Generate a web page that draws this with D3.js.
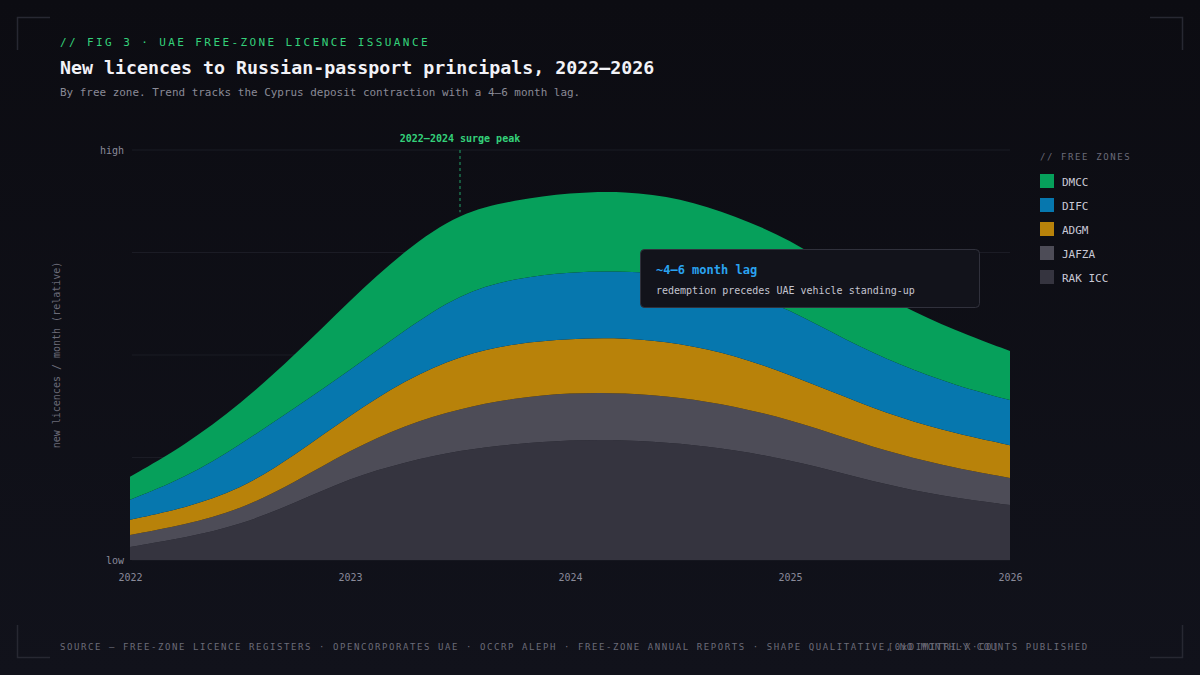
<!DOCTYPE html>
<html><head><meta charset="utf-8">
<script src="https://cdn.jsdelivr.net/npm/d3@7"></script>
<style>
html,body{margin:0;padding:0;background:#0e0e15;}
svg{display:block;font-family:"DejaVu Sans Mono",monospace;}
</style></head>
<body>
<svg id="c" width="1200" height="675"></svg>
<script>
// ---- data ----
const periods = [2022,2022.25,2022.5,2022.75,2023,2023.25,2023.5,2023.75,2024,2024.25,2024.5,2024.75,2025,2025.25,2025.5,2025.75,2026];
const zones = ["RAK ICC","JAFZA","ADGM","DIFC","DMCC"];
const rakIcc = [3.2,5.4,8.5,13.9,20.0,23.9,26.8,28.3,29.3,29.3,28.5,26.8,24.4,21.0,17.6,15.1,13.4];
const jafza  = [2.9,3.2,3.7,5.1,6.8,9.0,10.2,11.2,11.5,11.5,11.2,10.7,9.8,8.8,8.0,7.3,6.6];
const adgm   = [3.7,4.1,4.9,6.6,8.5,11.0,12.9,13.4,13.2,13.4,13.2,12.4,11.0,10.0,9.0,8.5,8.0];
const difc   = [4.9,7.3,11.0,11.5,11.0,12.2,15.1,15.9,16.3,16.3,16.6,16.3,15.9,13.9,12.9,11.7,11.0];
const dmcc   = [5.6,8.0,9.8,12.9,17.1,19.5,19.8,19.0,19.3,19.5,18.8,17.8,17.1,15.9,14.6,13.4,12.0];
const yearTicks = [2022,2023,2024,2025,2026];
const yTickLabels = [{v:0,label:"low"},{v:100,label:"high"}];
const gridVals = [0,25,50,75,100];
const legendOrder = ["DMCC","DIFC","ADGM","JAFZA","RAK ICC"];
const peakMarker = 2023.5;

const colors = {"DMCC":"#06a05b","DIFC":"#0677ae","ADGM":"#b8820a","JAFZA":"#4d4c57","RAK ICC":"#35343f"};

const seriesMap = {"RAK ICC":rakIcc,"JAFZA":jafza,"ADGM":adgm,"DIFC":difc,"DMCC":dmcc};
const table = periods.map((p,i)=>{const o={t:p}; zones.forEach(z=>o[z]=seriesMap[z][i]); return o;});

const svg = d3.select("#c");
const defs = svg.append("defs");
const bg = defs.append("linearGradient").attr("id","bg").attr("x1",0).attr("y1",0).attr("x2",0).attr("y2",1);
bg.append("stop").attr("offset","0%").attr("stop-color","#0c0c12");
bg.append("stop").attr("offset","100%").attr("stop-color","#11121b");
svg.append("rect").attr("width",1200).attr("height",675).attr("fill","url(#bg)");

// corner brackets
const cb = svg.append("g").attr("fill","none").attr("stroke","#272832").attr("stroke-width",1.5);
cb.append("path").attr("d","M17.5,50 V17.5 H50");
cb.append("path").attr("d","M1150,17.5 H1182.5 V50");
cb.append("path").attr("d","M17.5,625 V657.5 H50");
cb.append("path").attr("d","M1150,657.5 H1182.5 V625");

// header
svg.append("text").attr("x",60).attr("y",46).attr("fill","#34d17a").attr("font-size",11)
  .attr("letter-spacing","2.4px").text("// FIG 3 · UAE FREE-ZONE LICENCE ISSUANCE");
svg.append("text").attr("x",60).attr("y",74).attr("fill","#f2f2f7").attr("font-size",18.3).attr("font-weight","bold")
  .text("New licences to Russian-passport principals, 2022–2026");
svg.append("text").attr("x",60).attr("y",96).attr("fill","#8a8a96").attr("font-size",10.95)
  .text("By free zone. Trend tracks the Cyprus deposit contraction with a 4–6 month lag.");

// scales
const x = d3.scaleLinear().domain([2022,2026]).range([130,1010]);
const y = d3.scaleLinear().domain([0,100]).range([560,150]);

// grid
svg.append("g").selectAll("line").data(gridVals).join("line")
  .attr("x1",132).attr("x2",1010).attr("y1",d=>y(d)).attr("y2",d=>y(d))
  .attr("stroke","#1b1c25").attr("stroke-width",1);

// stack
const stack = d3.stack().keys(zones);
const layers = stack(table);
const area = d3.area().x(d=>x(d.data.t)).y0(d=>y(d[0])).y1(d=>y(d[1])).curve(d3.curveBasis);
svg.append("g").selectAll("path").data(layers).join("path")
  .attr("d",area).attr("fill",d=>colors[d.key]);

// y tick labels
svg.append("g").selectAll("text").data(yTickLabels).join("text")
  .attr("x",124).attr("y",d=>y(d.v)+4).attr("text-anchor","end")
  .attr("fill","#8a8a99").attr("font-size",10).text(d=>d.label);

// x axis
const xAxis = d3.axisBottom(x).tickValues(yearTicks).tickFormat(d3.format("d")).tickSize(0).tickPadding(14);
const gx = svg.append("g").attr("transform","translate(0,560)").call(xAxis);
gx.select(".domain").remove();
gx.selectAll("text").attr("fill","#8a8a99").attr("font-size",10).attr("font-family","DejaVu Sans Mono, monospace");

// y axis title
svg.append("text").attr("transform","translate(60,355) rotate(-90)").attr("text-anchor","middle")
  .attr("fill","#6b6b78").attr("font-size",10).text("new licences / month (relative)");

// peak marker
const topAt = (t)=>{ const l=layers[layers.length-1]; const i=periods.indexOf(t); return l[i][1]; };
svg.append("line").attr("x1",x(peakMarker)).attr("x2",x(peakMarker)).attr("y1",y(100)).attr("y2",y(topAt(peakMarker)))
  .attr("stroke","#1f8a5a").attr("stroke-width",1.2).attr("stroke-dasharray","3,3");
svg.append("text").attr("x",x(peakMarker)).attr("y",142).attr("text-anchor","middle")
  .attr("fill","#34d17a").attr("font-size",10).attr("font-weight","bold").text("2022–2024 surge peak");

// tooltip annotation
const tip = svg.append("g").attr("transform","translate(640.5,249.5)");
tip.append("rect").attr("width",339).attr("height",58).attr("rx",4)
  .attr("fill","#12131b").attr("stroke","#30313c").attr("stroke-width",1);
tip.append("text").attr("x",15.5).attr("y",24.5).attr("fill","#2aa3f0").attr("font-size",12).attr("font-weight","bold")
  .text("~4–6 month lag");
tip.append("text").attr("x",15.5).attr("y",44.5).attr("fill","#c4c4d0").attr("font-size",10)
  .text("redemption precedes UAE vehicle standing-up");

// legend
svg.append("text").attr("x",1040).attr("y",160).attr("fill","#6b6b78").attr("font-size",9)
  .attr("letter-spacing","1.6px").text("// FREE ZONES");
const lg = svg.append("g").selectAll("g").data(legendOrder).join("g")
  .attr("transform",(d,i)=>`translate(1040,${174+i*24})`);
lg.append("rect").attr("width",14).attr("height",14).attr("fill",d=>colors[d]);
lg.append("text").attr("x",22).attr("y",11.5).attr("fill","#c8c8d6").attr("font-size",11).text(d=>d);

// footer
svg.append("text").attr("x",60).attr("y",650).attr("fill","#6b6b78").attr("font-size",9)
  .attr("letter-spacing","1.58px")
  .text("SOURCE — FREE-ZONE LICENCE REGISTERS · OPENCORPORATES UAE · OCCRP ALEPH · FREE-ZONE ANNUAL REPORTS · SHAPE QUALITATIVE, NO MONTHLY COUNTS PUBLISHED");
svg.append("text").attr("x",1000).attr("y",650).attr("text-anchor","end").attr("fill","#6b6b78").attr("font-size",9)
  .attr("letter-spacing","1.6px").text("[0xDIMITRI·X·CO]");
</script>
</body></html>
